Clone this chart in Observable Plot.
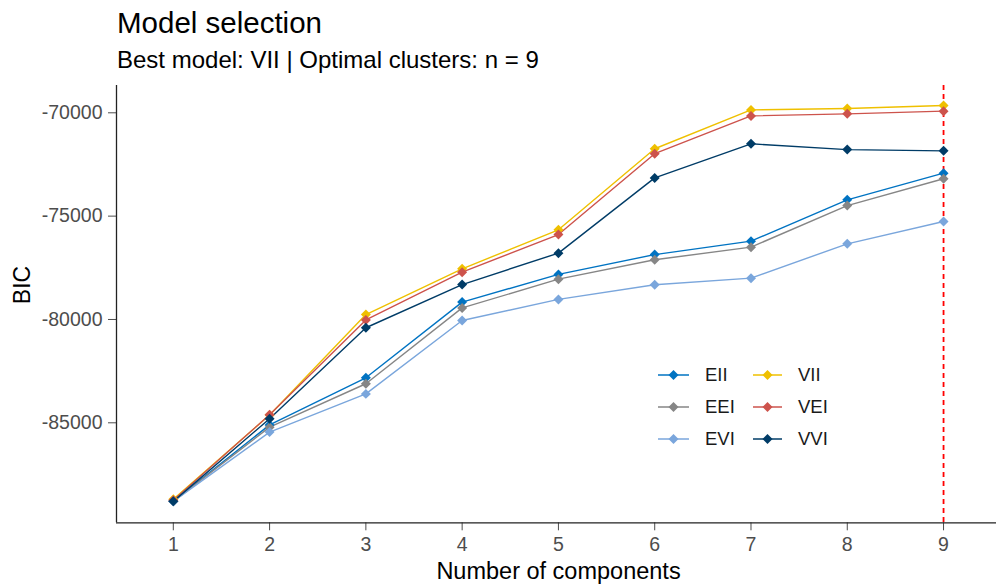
<!DOCTYPE html>
<html>
<head>
<meta charset="utf-8">
<script src="https://cdn.jsdelivr.net/npm/d3@7"></script>
<script src="https://cdn.jsdelivr.net/npm/@observablehq/plot@0.6"></script>
<style>
  html, body { margin: 0; padding: 0; background: #fff; }
  #wrap { position: relative; width: 996px; height: 586px; overflow: hidden; font-family: "Liberation Sans", Arial, sans-serif; }
  #header { position: absolute; left: 0; top: 0; }
  #chart { position: absolute; left: 0; top: 80px; }
  #legend { position: absolute; left: 640px; top: 355px; }
</style>
</head>
<body>
<div id="wrap">
  <svg id="header" width="996" height="80"></svg>
  <div id="chart"></div>
  <svg id="legend" width="200" height="100"></svg>
</div>
<script>
// Number of mixture components evaluated
const components = [1, 2, 3, 4, 5, 6, 7, 8, 9];

// BIC for each covariance model
const models = ["EII", "EEI", "EVI", "VII", "VEI", "VVI"];
const EII = [-88800, -85100, -82820, -79160, -77820, -76860, -76210, -74210, -72920];
const EEI = [-88800, -85210, -83110, -79440, -78050, -77110, -76500, -74490, -73190];
const EVI = [-88800, -85450, -83600, -80050, -79030, -78320, -78000, -76340, -75260];
const VII = [-88700, -84620, -79760, -77550, -75660, -71740, -69860, -69790, -69650];
const VEI = [-88750, -84610, -80020, -77710, -75890, -71980, -70150, -70050, -69920];
const VVI = [-88800, -84800, -80400, -78310, -76790, -73150, -71500, -71780, -71840];

const modelColors = ["#0073C2", "#868686", "#7AA6DC", "#EFC000", "#CD534C", "#003C67"];
const yTicks = [-85000, -80000, -75000, -70000];

const bestModel = "VII";
const bestN = 9;

const titleText = "Model selection";
const subtitleText = `Best model: ${bestModel} | Optimal clusters: n = ${bestN}`;

// Long table: one row per (model, components)
const seriesByModel = {EII, EEI, EVI, VII, VEI, VVI};
const rows = models.flatMap(m =>
  seriesByModel[m].map((bic, i) => ({model: m, n: components[i], bic}))
);

const font = "'Liberation Sans', Arial, sans-serif";

// Title and subtitle
const header = d3.select("#header");
header.append("text")
  .attr("x", 117).attr("y", 32.7)
  .attr("font-family", font).attr("font-size", 29.5)
  .attr("fill", "#000")
  .text(titleText);
header.append("text")
  .attr("x", 117).attr("y", 68.3)
  .attr("font-family", font).attr("font-size", 24)
  .attr("fill", "#000")
  .text(subtitleText);

const xDomain = [0.41, 9.55];
const yDomain = [-89838, -68679];

const chart = Plot.plot({
  width: 996,
  height: 506,
  marginLeft: 116,
  marginRight: 0,
  marginTop: 5,
  marginBottom: 63.7,
  style: {
    fontFamily: font,
    fontSize: "19.5px",
    color: "#4d4d4d",
    background: "white",
    overflow: "visible"
  },
  x: {
    domain: xDomain,
    ticks: components,
    tickFormat: d => String(d),
    tickSize: 8,
    tickPadding: 6,
    label: null
  },
  y: {
    domain: yDomain,
    ticks: yTicks,
    tickFormat: d => String(d),
    tickSize: 8,
    tickPadding: 6,
    label: null
  },
  color: {domain: models, range: modelColors},
  marks: [
    // axis lines
    Plot.ruleY([yDomain[0]], {stroke: "#222", strokeWidth: 1.3}),
    Plot.ruleX([xDomain[0]], {stroke: "#222", strokeWidth: 1.3}),
    // series lines
    Plot.line(rows, {x: "n", y: "bic", z: "model", stroke: "model", strokeWidth: 1.4}),
    // optimal number of clusters
    Plot.ruleX([bestN], {stroke: "#ff0000", strokeWidth: 1.8, strokeDasharray: "5,4"}),
    // series points
    Plot.dot(rows, {x: "n", y: "bic", fill: "model", symbol: "diamond2", r: 4.5}),
    // axis titles
    Plot.text(["BIC"], {frameAnchor: "left", dx: -94, rotate: -90, fontSize: 23, fill: "#000"}),
    Plot.text(["Number of components"], {frameAnchor: "bottom", dy: 56, dx: 2, fontSize: 23.5, fill: "#000"})
  ]
});
document.getElementById("chart").appendChild(chart);

// Legend: two columns of line + diamond keys
const legend = d3.select("#legend");
const colX = [18, 113];
const colW = [31, 29];
const labelX = [65, 158];
models.forEach((m, i) => {
  const col = Math.floor(i / 3), row = i % 3;
  const y = 20 + row * 32;
  const g = legend.append("g");
  g.append("line")
    .attr("x1", colX[col]).attr("x2", colX[col] + colW[col])
    .attr("y1", y).attr("y2", y)
    .attr("stroke", modelColors[i]).attr("stroke-width", 1.5);
  const cx = colX[col] + colW[col] / 2, h = 5;
  g.append("path")
    .attr("d", `M${cx},${y - h}L${cx + h},${y}L${cx},${y + h}L${cx - h},${y}Z`)
    .attr("fill", modelColors[i]);
  g.append("text")
    .attr("x", labelX[col]).attr("y", y)
    .attr("dy", "0.35em")
    .attr("font-family", font).attr("font-size", 18.5)
    .attr("fill", "#1a1a1a")
    .text(m);
});
</script>
</body>
</html>
